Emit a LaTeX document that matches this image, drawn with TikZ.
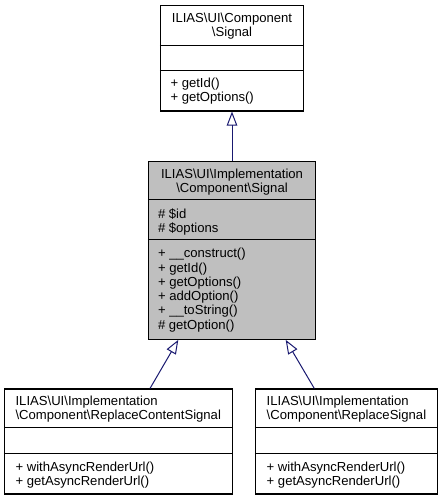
\documentclass[tikz,border=0pt]{standalone}
\usepackage{fontspec}
\setmainfont{Liberation Sans}
\usetikzlibrary{arrows.meta}
\definecolor{edgeblue}{HTML}{191970}
\definecolor{curfill}{HTML}{BFBFBF}
\tikzset{
  classbox/.style={draw=black, line width=1.1pt, fill=white, inner sep=0pt, minimum width=#1},
  curbox/.style={classbox=#1, fill=curfill},
  divider/.style={draw=black, line width=1.1pt},
  lbl/.style={inner sep=0pt, font=\fontsize{13.1}{14.3}\selectfont},
  inherit/.style={draw=edgeblue, line width=1pt, -{Triangle[open, length=14pt, width=10.5pt]}},
}
\newcommand{\st}{\strut}
\begin{document}
\begin{tikzpicture}[x=1pt, y=-1pt]
\useasboundingbox (0,0) rectangle (443,500);
% boxes
\node[classbox=143pt, minimum height=105.5pt] (a) at (232,58.25) {};
\node[curbox=167pt, minimum height=178pt] (b) at (232,250.3) {};
\node[classbox=228pt, minimum height=105pt] (c) at (118.5,441.5) {};
\node[classbox=182pt, minimum height=105pt] (d) at (346.5,441.5) {};
% dividers
\draw[divider] ([yshift=-40.2pt]a.north west) -- ([yshift=-40.2pt]a.north east);
\draw[divider] ([yshift=-65.5pt]a.north west) -- ([yshift=-65.5pt]a.north east);
\draw[divider] ([yshift=-39pt]b.north west) -- ([yshift=-39pt]b.north east);
\draw[divider] ([yshift=-78.7pt]b.north west) -- ([yshift=-78.7pt]b.north east);
\draw[divider] ([yshift=-39.3pt]c.north west) -- ([yshift=-39.3pt]c.north east);
\draw[divider] ([yshift=-65pt]c.north west) -- ([yshift=-65pt]c.north east);
\draw[divider] ([yshift=-39.3pt]d.north west) -- ([yshift=-39.3pt]d.north east);
\draw[divider] ([yshift=-65pt]d.north west) -- ([yshift=-65pt]d.north east);
% texts
\node[lbl, anchor=north, align=center] (at) at (232,12.4) {\st ILIAS\textbackslash UI\textbackslash Component\\\st\textbackslash Signal};
\node[lbl, anchor=north west, align=left] (am) at (170.3,77.4) {\st+ getId()\\\st+ getOptions()};
\node[lbl, anchor=north, align=center] (bt) at (232,168) {\st ILIAS\textbackslash UI\textbackslash Implementation\\\st\textbackslash Component\textbackslash Signal};
\node[lbl, anchor=north west, align=left] (ba) at (157.8,208) {\st\# \$id\\\st\# \$options};
\node[lbl, anchor=north west, align=left] (bm) at (157.8,247.5) {\st+ \_\_construct()\\\st+ getId()\\\st+ getOptions()\\\st+ addOption()\\\st+ \_\_toString()\\\st\# getOption()};
\node[lbl, anchor=north west, align=left] (ct) at (15.4,395.3) {\st ILIAS\textbackslash UI\textbackslash Implementation\\\st\textbackslash Component\textbackslash ReplaceContentSignal};
\node[lbl, anchor=north west, align=left] (cm) at (15.4,461) {\st+ withAsyncRenderUrl()\\\st+ getAsyncRenderUrl()};
\node[lbl, anchor=north west, align=left] (dt) at (266.5,395.3) {\st ILIAS\textbackslash UI\textbackslash Implementation\\\st\textbackslash Component\textbackslash ReplaceSignal};
\node[lbl, anchor=north west, align=left] (dm) at (266.5,461) {\st+ withAsyncRenderUrl()\\\st+ getAsyncRenderUrl()};
% inheritance
\draw[inherit] (b.north) -- (a.south);
\draw[inherit] ([xshift=31.5pt]c.north) -- ([xshift=-53.7pt]b.south);
\draw[inherit] ([xshift=-32.2pt]d.north) -- ([xshift=53.7pt]b.south);
\end{tikzpicture}
\end{document}
